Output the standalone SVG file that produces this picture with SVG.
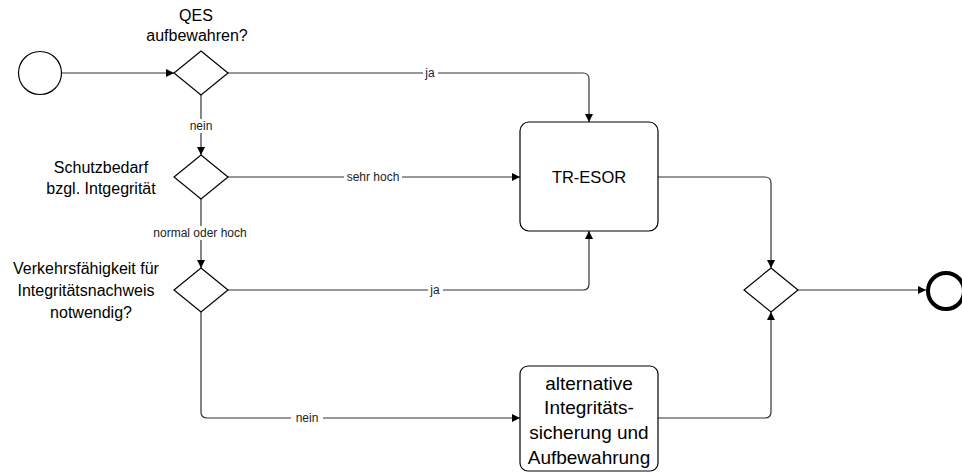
<svg xmlns="http://www.w3.org/2000/svg" width="962" height="474" viewBox="0 0 962 474">
<style>
.shape{fill:#fff;stroke:#000;stroke-width:1.2}
.edge{fill:none;stroke:#333;stroke-width:1.2}
.t{font-family:"Liberation Sans",Arial,sans-serif;fill:#000;text-anchor:middle;dominant-baseline:central}
.q{font-size:16px}
.lbl{font-size:12px;fill:#222}
.lb{fill:#fff}
</style>
<defs>
<marker id="arr" viewBox="0 0 10 10" refX="10" refY="5" markerWidth="8" markerHeight="8" markerUnits="userSpaceOnUse" orient="auto">
<path d="M0,0 L10,5 L0,10 z" fill="#000"/>
</marker>
</defs>
<rect width="962" height="474" fill="#fff"/>
<g id="connectors">
<path class="edge" d="M61,73 H174" marker-end="url(#arr)"/>
<path class="edge" d="M228,73 H583 Q589,73 589,79 V122" marker-end="url(#arr)"/>
<path class="edge" d="M201,95 V155" marker-end="url(#arr)"/>
<path class="edge" d="M228,177 H520" marker-end="url(#arr)"/>
<path class="edge" d="M201,199 V268" marker-end="url(#arr)"/>
<path class="edge" d="M228,290 H583 Q589,290 589,284 V231" marker-end="url(#arr)"/>
<path class="edge" d="M201,312 V412 Q201,418 207,418 H520" marker-end="url(#arr)"/>
<path class="edge" d="M658,177 H765 Q771,177 771,183 V268" marker-end="url(#arr)"/>
<path class="edge" d="M658,418 H765 Q771,418 771,412 V312" marker-end="url(#arr)"/>
<path class="edge" d="M798,290 H926" marker-end="url(#arr)"/>
<rect class="lb" x="423" y="66" width="15" height="14"/>
<text class="t lbl" x="430" y="73">ja</text>
<rect class="lb" x="185" y="119" width="32" height="14"/>
<text class="t lbl" x="201" y="126">nein</text>
<rect class="lb" x="344" y="170" width="58" height="14"/>
<text class="t lbl" x="373" y="177">sehr hoch</text>
<rect class="lb" x="151" y="226" width="99" height="14"/>
<text class="t lbl" x="200" y="233">normal oder hoch</text>
<rect class="lb" x="428" y="283" width="15" height="14"/>
<text class="t lbl" x="435" y="290">ja</text>
<rect class="lb" x="291" y="411" width="32" height="14"/>
<text class="t lbl" x="307" y="418">nein</text>
</g>
<g id="start">
<circle class="shape" cx="40" cy="73" r="21.5"/>
</g>
<g id="gw1">
<polygon class="shape" points="201,51 228,73 201,95 174,73"/>
<text class="t q" x="196" y="15">QES</text>
<text class="t q" x="197" y="35">aufbewahren?</text>
</g>
<g id="gw2">
<polygon class="shape" points="201,155 228,177 201,199 174,177"/>
<text class="t q" x="101" y="167">Schutzbedarf</text>
<text class="t q" x="101" y="188">bzgl. Intgegrität</text>
</g>
<g id="gw3">
<polygon class="shape" points="201,268 228,290 201,312 174,290"/>
<text class="t q" x="86" y="268">Verkehrsfähigkeit für</text>
<text class="t q" x="86" y="290">Integritätsnachweis</text>
<text class="t q" x="91" y="312">notwendig?</text>
</g>
<g id="tresor">
<rect class="shape" x="520" y="122" width="138" height="109" rx="9"/>
<text class="t" style="font-size:16.5px" x="589" y="177">TR-ESOR</text>
</g>
<g id="alt">
<rect class="shape" x="520" y="366" width="138" height="105" rx="8"/>
<text class="t" style="font-size:19px" x="589" y="383">alternative</text>
<text class="t" style="font-size:19px" x="589" y="407">Integritäts-</text>
<text class="t" style="font-size:19px" x="589" y="432">sicherung und</text>
<text class="t" style="font-size:19px" x="589" y="457">Aufbewahrung</text>
</g>
<g id="gw4">
<polygon class="shape" points="771,268 798,290 771,312 744,290"/>
</g>
<g id="end">
<circle cx="946" cy="291" r="18" fill="#fff" stroke="#000" stroke-width="4"/>
</g>
</svg>
